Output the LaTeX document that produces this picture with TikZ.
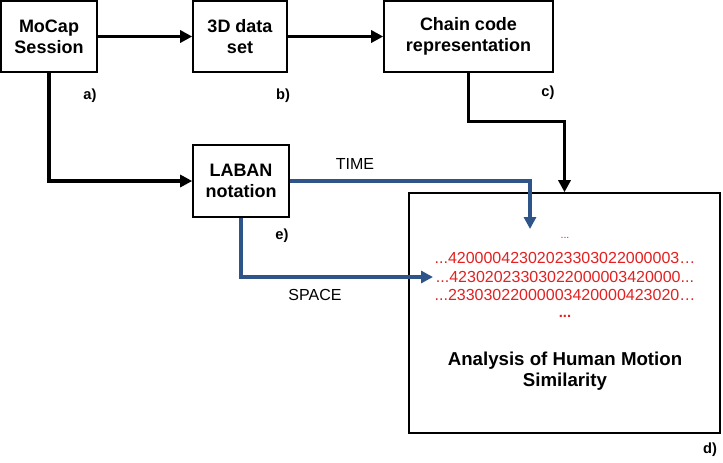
\documentclass[tikz,border=0pt]{standalone}
\usepackage{fontspec}
\setmainfont{Liberation Sans}
\usetikzlibrary{arrows.meta}
\definecolor{lineblue}{RGB}{46,84,138}
\definecolor{codered}{RGB}{228,32,32}
\begin{document}
\begin{tikzpicture}[x=0.75pt,y=-0.75pt,
  box/.style={draw=black,line width=1.2pt,fill=white,align=center,inner sep=0pt,
    font=\fontsize{13.5pt}{16pt}\selectfont\bfseries},
  arr/.style={line width=2.4pt,-{Triangle[length=9pt,width=9pt]}},
  barr/.style={draw=lineblue,line width=2.4pt,-{Triangle[length=9pt,width=9pt]},color=lineblue},
  tag/.style={font=\fontsize{11pt}{12pt}\selectfont\bfseries,inner sep=0pt},
  lbl/.style={font=\fontsize{12pt}{13pt}\selectfont,inner sep=0pt},
  code/.style={font=\fontsize{12pt}{13pt}\selectfont,text=codered,inner sep=0pt}]
\useasboundingbox (0,0) rectangle (723,462);
\node[box,minimum width=72pt,minimum height=53.25pt] (mocap) at (49,36.5) {MoCap\\Session};
\node[box,minimum width=70.5pt,minimum height=53.25pt] (d3) at (240,36.5) {3D data\\set};
\node[box,minimum width=126.75pt,minimum height=53.25pt] (chain) at (468.5,36.5) {Chain code\\representation};
\node[box,minimum width=72pt,minimum height=54pt] (laban) at (241,181) {LABAN\\notation};
\node[box,minimum width=233.25pt,minimum height=180pt] (big) at (564.5,313) {};
\node[tag] (ta) at (90,96) {a)};
\node[tag] (tb) at (283,96) {b)};
\node[tag] (tc) at (548,93) {c)};
\node[tag] (te) at (282,236) {e)};
\node[tag] (td) at (710,450) {d)};
\node[lbl] (time) at (355,164) {TIME};
\node[lbl] (space) at (315,295) {SPACE};
\node[code,font=\fontsize{8pt}{9pt}\selectfont] (dots1) at (565,238) {...};
\node[code] (l1) at (565,258) {...42000042302023303022000003…};
\node[code] (l2) at (565,277) {...42302023303022000003420000...};
\node[code] (l3) at (565,295) {...23303022000003420000423020…};
\node[code,font=\fontsize{11pt}{12pt}\selectfont\bfseries] (dots2) at (565,316) {...};
\node[align=center,inner sep=0pt,font=\fontsize{14pt}{15.5pt}\selectfont\bfseries] (title) at (565,371) {Analysis of Human Motion\\Similarity};
\coordinate (timeend) at (530,229);
\coordinate (spaceend) at (433,277);
\draw[arr] (mocap.east) -- (d3.west);
\draw[arr] (d3.east) -- (chain.west);
\draw[arr] (mocap.south) |- (laban.west);
\draw[arr] (chain.south) -- ++(0,48.5) -| (big.north);
\draw[barr] (laban.east) -| (timeend);
\draw[barr] (laban.south) |- (spaceend);
\end{tikzpicture}
\end{document}
